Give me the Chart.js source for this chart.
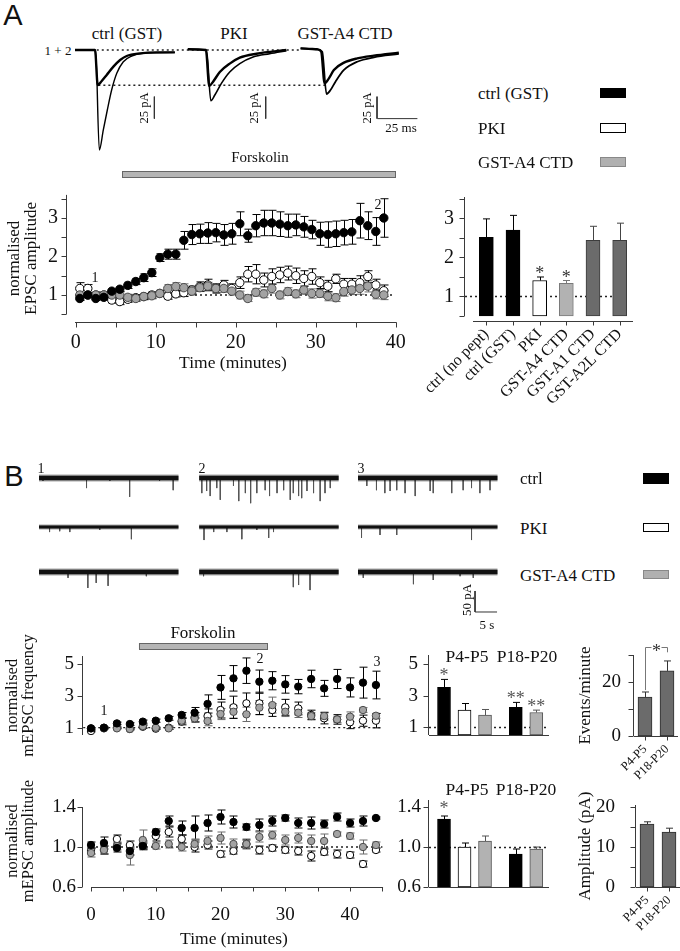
<!DOCTYPE html>
<html><head><meta charset="utf-8"><title>Forskolin EPSC figure</title>
<script src="https://cdn.jsdelivr.net/npm/chart.js@4.4.1/dist/chart.umd.min.js"></script>
<style>
html,body{margin:0;padding:0;background:#fff}
body{position:relative;width:680px;height:951px;overflow:hidden;font-family:"Liberation Serif","Times New Roman",serif;color:#111}
canvas.c{position:absolute}
.t{position:absolute;white-space:nowrap;line-height:1;color:#111}
.sw{position:absolute;box-sizing:border-box;width:26px;height:10px;border:1px solid #000}
</style></head><body>
<script>
// ================= DATA =================
// Panel A: example EPSC traces [time ms, current pA]; 1 = baseline, 2 = forskolin
const epscCtrl1 = [[0,0],[12.5,0],[14.2,-39.8],[16.7,-35.2],[19.8,-28.4],[24,-18.9],[28.2,-11.4],[32.3,-6.8],[40.6,-3.8],[51,-2.7],[62.4,-2.7]];
const epscCtrl2 = [[0,0],[12.9,0],[15.2,-113.6],[17.7,-90.9],[20.2,-68.2],[22.9,-45.5],[26.1,-26.5],[30.2,-13.3],[35.4,-6.8],[42.7,-3.8],[62.4,-2.7]];
const epscPKI1 = [[0,0.8],[11.3,0],[13.4,-40.9],[15.8,-36],[20,-25],[26.2,-15.5],[32.5,-8.7],[42.9,-4.2],[61.6,0]];
const epscPKI2 = [[0,0.8],[11.7,0],[14.4,-57.6],[16.9,-51.1],[21,-37.9],[26.2,-25],[32.5,-15.5],[40.8,-8],[51.2,-4.2],[61.6,-0.8]];
const epscA41 = [[0,1.9],[10.4,0.8],[12.9,-1.9],[15,-37.9],[17.7,-32.2],[20.8,-22.7],[27.1,-14.4],[35.4,-9.5],[45.8,-6.4],[61.4,-3]];
const epscA42 = [[0,1.9],[10.4,0.8],[13.5,-1.9],[16.2,-50],[18.7,-45.5],[21.8,-36],[27.1,-22.7],[35.4,-13.3],[45.8,-8.3],[61.4,-4.5]];
const traceScalePA = 25, traceScaleMs = 25;

// Panel A: normalised EPSC amplitude vs time (minutes)
const timeA = [0.5,1.5,2.5,3.5,4.5,5.5,6.5,7.5,8.5,9.5,10.5,11.5,12.5,13.5,14.5,15.5,16.5,17.5,18.5,19.5,20.5,21.5,22.5,23.5,24.5,25.5,26.5,27.5,28.5,29.5,30.5,31.5,32.5,33.5,34.5,35.5,36.5,37.5,38.5];
const epscCtrl = [0.91,1.00,0.91,0.94,1.10,1.15,1.25,1.35,1.45,1.58,1.97,2.06,2.06,2.42,2.57,2.59,2.61,2.62,2.56,2.59,2.85,2.54,2.80,2.87,2.87,2.84,2.80,2.82,2.77,2.70,2.59,2.57,2.59,2.62,2.64,2.93,2.80,2.65,3.00];
const epscCtrlErr = [0.05,0.05,0.05,0.05,0.05,0.06,0.08,0.08,0.10,0.10,0.10,0.13,0.13,0.23,0.26,0.25,0.27,0.24,0.27,0.27,0.31,0.17,0.29,0.33,0.33,0.32,0.30,0.28,0.27,0.24,0.30,0.33,0.33,0.32,0.32,0.45,0.36,0.36,0.50];
const epscPKI = [1.17,1.17,1.00,1.00,0.87,0.83,0.89,0.93,0.96,1.00,1.04,0.97,1.03,1.06,1.13,1.22,1.26,1.17,1.26,1.17,1.32,1.54,1.54,1.39,1.48,1.52,1.57,1.50,1.43,1.48,1.32,1.23,1.42,1.28,1.28,1.32,1.48,1.26,1.11];
const epscPKIErr = [0.15,0.10,0.08,0.08,0.08,0.08,0.08,0.08,0.08,0.08,0.08,0.08,0.08,0.10,0.10,0.12,0.15,0.12,0.12,0.12,0.15,0.20,0.25,0.18,0.20,0.20,0.18,0.20,0.20,0.20,0.15,0.15,0.12,0.15,0.15,0.18,0.15,0.15,0.15];
const epscA4 = [1.00,1.00,1.00,1.00,1.00,1.00,0.94,0.91,0.96,0.98,1.04,1.17,1.22,1.19,1.10,1.19,1.23,1.17,1.17,1.10,1.00,0.91,1.07,1.03,1.17,1.00,1.09,1.03,1.13,1.04,1.04,0.97,0.93,1.09,1.13,1.17,1.23,1.02,1.00];
const epscA4Err = [0.08,0.06,0.06,0.06,0.08,0.08,0.08,0.08,0.08,0.08,0.08,0.10,0.10,0.10,0.10,0.10,0.10,0.10,0.10,0.10,0.10,0.08,0.10,0.10,0.12,0.10,0.10,0.10,0.10,0.12,0.10,0.12,0.10,0.12,0.12,0.15,0.15,0.12,0.12];
const forskolinA = [5.8, 39.9];
const tickXA = [0,5,10,15,20,25,30,35,40];
const tickYA = [0.5,1,1.5,2,2.5,3,3.5];

// Panel A: summary bars
const barCatsA = ['ctrl (no pept)','ctrl (GST)','PKI','GST-A4 CTD','GST-A1 CTD','GST-A2L CTD'];
const barValsA = [2.52,2.70,1.41,1.34,2.44,2.44];
const barErrA = [0.47,0.38,0.09,0.07,0.36,0.44];
const barStarsA = ['','','*','*','',''];

// Panel B: mEPSC example traces: spikes [time s, amplitude pA]
const spikesCtrl1 = [[0.9,7],[10.8,24],[16.1,7],[20.6,45],[27.4,7],[30.5,29]];
const spikesCtrl2 = [[0.6,36],[1.7,31],[2.5,43],[4.0,24],[4.8,52],[7.8,19],[9.0,55],[10.5,36],[11.7,60],[13.1,36],[15.0,29],[16.0,43],[17.7,36],[19.2,29],[20.7,52],[21.4,36],[22.6,43],[23.3,48],[24.5,31],[26.0,36],[27.5,55],[28.6,36],[29.8,24]];
const spikesCtrl3 = [[2.0,19],[4.2,29],[6.1,36],[7.3,31],[8.8,29],[10.7,36],[13.0,43],[16.4,31],[17.1,36],[21.3,36],[23.9,29],[25.8,24],[27.7,36],[30.0,29]];
const spikesPKI1 = [[2.4,12],[4.7,10],[7.0,12],[13.8,7],[21.0,29]];
const spikesPKI2 = [[1.1,31],[3.3,12],[6.3,12],[9.7,29],[13.1,7],[15.8,26],[16.9,12]];
const spikesPKI3 = [[0.8,26],[5.0,19],[8.8,19],[25.8,31]];
const spikesA41 = [[6.6,14],[11.1,38],[13.0,26],[15.7,33],[24.4,10]];
const spikesA42 = [[1.0,10],[21.4,36],[22.6,31],[25.2,43]];
const spikesA43 = [[1.2,14],[12.6,29],[17.1,19],[23.2,10],[26.2,14]];
const mTraceLenS = 31.7, mScalePA = 50, mScaleS = 5;

// Panel B: normalised mEPSC frequency / amplitude vs time (minutes)
const timeB = [0,2,4,6,8,10,12,14,16,18,20,22,24,26,28,30,32,34,36,38,40,42,44];
const freqCtrl = [0.96,1.00,1.27,1.23,1.38,1.44,1.59,1.80,1.94,2.49,3.53,4.10,4.58,3.89,3.95,3.72,3.58,4.06,3.47,4.06,3.53,3.83,3.68];
const freqCtrlErr = [0.05,0.05,0.08,0.08,0.10,0.10,0.12,0.15,0.33,0.57,0.75,0.80,0.80,0.73,0.57,0.55,0.45,0.55,0.50,0.60,0.60,0.97,0.87];
const freqPKI = [0.79,0.96,1.00,0.92,1.06,0.94,1.00,1.38,1.65,1.73,2.11,2.28,2.53,2.53,2.11,2.28,2.21,1.80,1.59,1.52,1.34,1.44,1.44];
const freqPKIErr = [0.05,0.05,0.05,0.05,0.10,0.05,0.10,0.20,0.30,0.45,0.50,0.70,0.65,0.70,0.40,0.50,0.40,0.30,0.35,0.30,0.40,0.35,0.45];
const freqA4 = [0.96,1.00,0.96,0.92,1.10,1.00,0.96,1.44,1.59,1.42,1.86,2.00,1.84,2.26,2.42,2.00,1.94,1.73,1.73,1.52,1.69,2.11,1.75];
const freqA4Err = [0.05,0.05,0.05,0.05,0.08,0.05,0.05,0.15,0.20,0.30,0.35,0.40,0.45,0.45,0.50,0.30,0.30,0.20,0.25,0.20,0.30,0.15,0.15];
const ampCtrl = [1.02,1.04,0.99,0.96,1.01,1.15,1.26,1.19,1.19,1.24,1.30,1.25,1.20,1.22,1.26,1.29,1.24,1.24,1.23,1.30,1.24,1.26,1.29];
const ampCtrlErr = [0.03,0.06,0.04,0.04,0.03,0.03,0.05,0.07,0.12,0.08,0.07,0.06,0.03,0.06,0.05,0.03,0.05,0.06,0.04,0.04,0.04,0.05,0.01];
const ampPKI = [0.96,0.97,1.08,1.02,1.02,1.11,1.15,1.08,1.00,1.02,0.93,0.96,1.03,0.97,0.99,0.97,0.96,0.91,0.95,0.93,0.92,0.83,0.97];
const ampPKIErr = [0.03,0.04,0.04,0.04,0.04,0.05,0.05,0.04,0.05,0.04,0.03,0.03,0.04,0.04,0.03,0.03,0.04,0.05,0.03,0.04,0.03,0.03,0.02];
const ampA4 = [0.94,0.97,1.01,0.92,1.07,1.01,1.03,1.00,1.03,1.06,1.09,1.03,1.03,1.10,1.12,1.07,1.09,1.06,1.06,1.13,1.11,1.00,1.02];
const ampA4Err = [0.04,0.04,0.04,0.10,0.10,0.03,0.04,0.04,0.05,0.05,0.06,0.05,0.05,0.05,0.04,0.05,0.05,0.06,0.07,0.02,0.03,0.07,0.03];
const forskolinB = [7.4, 27.2];
const tickXB = [0,5,10,15,20,25,30,35,40,45];
const tickYFreq = [1,3,5];
const tickYAmp = [0.6,1.0,1.4];

// Panel B: summary bars by age group
const ageGroups = ['P4-P5','P18-P20'];
const barGroupB = [0,0,0,1,1];
const freqBarVals = [3.52,2.08,1.76,2.25,1.93];
const freqBarErr = [0.51,0.42,0.36,0.32,0.15];
const freqBarStars = ['*','','','**','**'];
const ampBarVals = [1.28,1.00,1.06,0.93,0.98];
const ampBarErr = [0.03,0.04,0.05,0.05,0.02];
const ampBarStars = ['*','','','',''];
const eventsPerMin = [14.4,24.1];
const eventsErr = [1.9,3.7];
const amplitudePA = [15.75,13.7];
const amplitudeErr = [0.55,1.0];

// ================= STYLE / HELPERS =================
const SERIF = '"Liberation Serif","Times New Roman",serif';
Chart.defaults.font.family = SERIF;
Chart.defaults.color = '#111';
Chart.defaults.animation = false;
const BLACK = '#000', WHITE = '#fff', DGREY = '#6b6b6b';

function canvasAt(b){const c=document.createElement('canvas');c.width=b.w;c.height=b.h;c.className='c';c.style.left=b.l+'px';c.style.top=b.t+'px';c.style.width=b.w+'px';c.style.height=b.h+'px';document.body.appendChild(c);return c;}
function T(s,x,y,size,opt){opt=opt||{};const d=document.createElement('div');d.className='t';d.textContent=s;d.style.left=x+'px';d.style.top=y+'px';d.style.fontSize=size+'px';let tr=opt.left?'translate(0,-50%)':'translate(-50%,-50%)';if(opt.rot)tr+=' rotate('+opt.rot+'deg)';d.style.transform=tr;if(opt.sans)d.style.fontFamily='"Liberation Sans",Arial,sans-serif';document.body.appendChild(d);}
function SW(x,y,h,bg,bd){const d=document.createElement('div');d.className='sw';d.style.left=x+'px';d.style.top=y+'px';d.style.height=h+'px';d.style.background=bg;d.style.borderColor=bd;document.body.appendChild(d);}
function pad(b,a,xShown){return {left:0,top:a.t-b.t,right:b.l+b.w-a.r,bottom:xShown?0:b.t+b.h-a.b};}
function noPad(s){s.paddingTop=0;s.paddingBottom=0;s.paddingLeft=0;s.paddingRight=0;}
function yAxis(b,a,o){
  const ticks={padding:o.pad,font:{size:o.fs||19},color:'#111',autoSkip:false};
  if(o.fmt)ticks.callback=o.fmt;
  return {type:'linear',min:o.min,max:o.max,
    afterFit:s=>{s.width=a.l-b.l;noPad(s);},
    afterBuildTicks:s=>{s.ticks=o.ticks.map(v=>({value:v}));},
    grid:{display:false,drawTicks:false},border:{display:false},ticks,
    title:o.title?{display:true,text:o.title,font:{size:o.tfs||17,lineHeight:1},padding:{top:o.tpad||5,bottom:4},color:'#111'}:{display:false}};
}
function xAxis(b,a,o){
  const ticks={padding:o.pad||8,font:{size:o.fs||19},color:'#111',autoSkip:false,maxRotation:o.rot||0,minRotation:o.rot||0};
  if(o.fmt)ticks.callback=o.fmt;
  const ax={type:o.type||'linear',display:o.display!==false,
    grid:{display:false,drawTicks:false},border:{display:false},ticks,
    title:o.title?{display:true,text:o.title,font:{size:17.5,lineHeight:1},padding:{top:2,bottom:o.tbot||4},color:'#111'}:{display:false}};
  ax.afterFit = (o.display===false) ? (s=>{s.height=0;noPad(s);}) : (s=>{s.height=b.t+b.h-a.b;noPad(s);});
  if(o.min!==undefined){ax.min=o.min;ax.max=o.max;}
  if(o.ticks)ax.afterBuildTicks=s=>{s.ticks=o.ticks.map(v=>({value:v}));};
  return ax;
}
function baseOpts(extra){
  const o={responsive:false,maintainAspectRatio:false,devicePixelRatio:1,animation:false,events:[]};
  Object.assign(o,extra);
  o.plugins=Object.assign({legend:{display:false},tooltip:{enabled:false}},extra.plugins||{});
  return o;
}
function sc(xs,ys,errs,kind,r,order){
  const st={black:{bg:'#000',bd:'#000',ec:'#000'},white:{bg:'#fff',bd:'#000',ec:'#000'},grey:{bg:'#a3a3a3',bd:'#4a4a4a',ec:'#6a6a6a'}}[kind];
  return {type:'scatter',data:xs.map((x,i)=>({x,y:ys[i]})),errors:errs,errColor:st.ec,errCap:4,
    pointRadius:r,pointBackgroundColor:st.bg,pointBorderColor:st.bd,pointBorderWidth:1,order};
}
function refLine(x0,x1,v){return {type:'line',showLine:true,data:[{x:x0,y:v},{x:x1,y:v}],borderColor:'#222',borderWidth:1.3,borderDash:[2,3],pointRadius:0,order:9};}

// ---- plugins ----
function drawErr(chart,after){
  const ctx=chart.ctx;
  chart.data.datasets.forEach((ds,i)=>{
    if(!ds.errors||(!!ds.errAfter)!==after)return;
    const meta=chart.getDatasetMeta(i);const ys=chart.scales[meta.yAxisID];
    ctx.save();ctx.lineWidth=1;
    meta.data.forEach((el,j)=>{
      const e=ds.errors[j];const raw=ds.data[j];const v=(raw!==null&&typeof raw==='object')?raw.y:raw;
      const x=Math.round(el.x)+0.5;const yt=ys.getPixelForValue(v+e);
      const yb=ds.errAfter?ys.getPixelForValue(v):ys.getPixelForValue(v-e);const c=ds.errCap||4;
      ctx.strokeStyle=Array.isArray(ds.errColor)?ds.errColor[j]:(ds.errColor||'#000');
      ctx.beginPath();ctx.moveTo(x,yt);ctx.lineTo(x,yb);ctx.moveTo(x-c,yt);ctx.lineTo(x+c,yt);
      if(!ds.errAfter){ctx.moveTo(x-c,yb);ctx.lineTo(x+c,yb);}
      ctx.stroke();
      if(ds.stars&&ds.stars[j]){ctx.fillStyle=ds.starColor||'#333';ctx.font=(ds.starSize||17)+'px '+SERIF;ctx.textAlign='center';ctx.textBaseline='alphabetic';ctx.fillText(ds.stars[j],el.x,yt+(ds.starDy||0));}
    });
    ctx.restore();
  });
}
const errPlugin={id:'errbars',beforeDatasetsDraw(c){drawErr(c,false);},afterDatasetsDraw(c){drawErr(c,true);}};
const spinePlugin={id:'spines',afterDraw(chart,args,o){
  if(!o||(!o.y&&!o.x))return;const ctx=chart.ctx,a=chart.chartArea;
  ctx.save();ctx.strokeStyle=o.color||'#3a3a3a';ctx.lineWidth=1;ctx.beginPath();
  if(o.y){const ys=chart.scales.y;const x=Math.round(a.left-(o.y.off||0))-0.5;
    ctx.moveTo(x,ys.getPixelForValue(o.y.lo));ctx.lineTo(x,ys.getPixelForValue(o.y.hi));
    ys.ticks.forEach(t=>{const p=Math.round(ys.getPixelForValue(t.value))+0.5;ctx.moveTo(x,p);ctx.lineTo(x-(o.y.tick||5),p);});}
  if(o.x){const xs=chart.scales.x;const y=Math.round(a.bottom+(o.x.off||0))+0.5;
    const x0=o.x.lo!==undefined?xs.getPixelForValue(o.x.lo):a.left;const x1=o.x.hi!==undefined?xs.getPixelForValue(o.x.hi):a.right;
    ctx.moveTo(x0,y);ctx.lineTo(x1,y);
    if(o.x.tick){xs.ticks.forEach((t,i)=>{const p=Math.round(xs.getPixelForTick(i))+0.5;ctx.moveTo(p,y);ctx.lineTo(p,y+o.x.tick);});}}
  ctx.stroke();ctx.restore();}};
const forskPlugin={id:'forsk',beforeDraw(chart,args,o){
  if(!o||o.from===undefined)return;const xs=chart.scales.x,ctx=chart.ctx;
  const x0=xs.getPixelForValue(o.from),x1=xs.getPixelForValue(o.to);const y0=chart.chartArea.top+o.dy;
  ctx.save();ctx.fillStyle='#b5b5b5';ctx.strokeStyle='#666';ctx.lineWidth=1;
  ctx.fillRect(x0,y0,x1-x0,o.h);ctx.strokeRect(Math.round(x0)+0.5,Math.round(y0)+0.5,Math.round(x1-x0),o.h);ctx.restore();}};
const hlinePlugin={id:'hline',beforeDatasetsDraw(chart,args,o){
  if(!o||o.value===undefined)return;const xs=chart.scales.x,ys=chart.scales.y,ctx=chart.ctx;
  const y=Math.round(ys.getPixelForValue(o.value))+0.5;
  ctx.save();ctx.strokeStyle='#222';ctx.lineWidth=1.3;ctx.setLineDash([2,3]);ctx.beginPath();
  ctx.moveTo(xs.getPixelForValue(o.from),y);ctx.lineTo(xs.getPixelForValue(o.to),y);ctx.stroke();ctx.restore();}};
const bracketPlugin={id:'bracket',afterDatasetsDraw(chart,args,o){
  if(!o||o.top===undefined)return;const xs=chart.scales.x,ys=chart.scales.y,ctx=chart.ctx;
  const xl=Math.round(xs.getPixelForValue(0))+0.5,xr=Math.round(xs.getPixelForValue(1))+0.5;
  const yt=Math.round(ys.getPixelForValue(o.top))+0.5,yl=ys.getPixelForValue(o.left),yr=ys.getPixelForValue(o.right);
  const xm=(xl+xr)/2;
  ctx.save();ctx.strokeStyle='#777';ctx.lineWidth=1;ctx.beginPath();
  ctx.moveTo(xl,yl);ctx.lineTo(xl,yt);ctx.lineTo(xm-5,yt);ctx.moveTo(xm+5,yt);ctx.lineTo(xr,yt);ctx.lineTo(xr,yr);ctx.stroke();
  ctx.fillStyle='#333';ctx.font='18px '+SERIF;ctx.textAlign='center';ctx.textBaseline='alphabetic';ctx.fillText(o.label,xm,yt+9);
  ctx.restore();}};
Chart.register(errPlugin,spinePlugin,forskPlugin,hlinePlugin,bracketPlugin);

// ================= PANEL A: traces =================
(function(){
  const b={l:75,t:45,w:345,h:111};
  const groupOff=70.5;
  const tr=(arr,g,w)=>({type:'line',data:arr.map(p=>({x:p[0]+g*groupOff,y:p[1]})),borderColor:'#000',borderWidth:w,pointRadius:0,cubicInterpolationMode:'monotone',order:1});
  const ln=(pts,dash,w)=>({type:'line',data:pts.map(p=>({x:p[0],y:p[1]})),borderColor:dash?'#222':'#333',borderWidth:w,borderDash:dash?[2,3]:[],pointRadius:0,order:2});
  const bars=[0,1,2].map(g=>ln([[49.6+g*groupOff*0.987,-53],[49.6+g*groupOff*0.987,-53-traceScalePA]],false,1));
  const msBar=ln([[189,-53-traceScalePA],[189+traceScaleMs,-53-traceScalePA]],false,1);
  new Chart(canvasAt(b),{type:'line',data:{datasets:[
    tr(epscCtrl1,0,2.4),tr(epscCtrl2,0,1.4),tr(epscPKI1,1,2.4),tr(epscPKI2,1,1.6),tr(epscA41,2,2.4),tr(epscA42,2,1.8),
    ln([[13.6,0],[140.6,0]],true,1.4),ln([[14.6,-40],[156.3,-40]],true,1.4),...bars,msBar]},
    options:baseOpts({layout:{padding:0},scales:{x:{type:'linear',display:false,min:0,max:345/1.6},y:{type:'linear',display:false,min:-120.5,max:5.7}}})});
})();

// ================= PANEL A: time course =================
(function(){
  const b={l:0,t:145,w:420,h:231},a={l:67,t:195,r:399,b:322};
  new Chart(canvasAt(b),{type:'scatter',data:{datasets:[
    refLine(-0.1,39.6,1),
    sc(timeA,epscCtrl,epscCtrlErr,'black',4.2,0),
    sc(timeA,epscA4,epscA4Err,'grey',4.2,1),
    sc(timeA,epscPKI,epscPKIErr,'white',4.2,2)]},
    options:baseOpts({layout:{padding:pad(b,a,true)},
      scales:{x:xAxis(b,a,{min:-1.1,max:40.4,ticks:tickXA,fmt:v=>v%10===0?v:'',pad:9,fs:20,title:'Time (minutes)'}),
              y:yAxis(b,a,{min:0.299,max:3.597,ticks:tickYA,fmt:v=>Number.isInteger(v)?v:'',pad:9,fs:20,title:['normalised','EPSC amplitude'],tpad:6})},
      plugins:{spines:{y:{lo:0.5,hi:3.6,tick:5},x:{lo:-0.1,hi:40.1,tick:5}},forsk:{from:forskolinA[0],to:forskolinA[1],dy:-24,h:6}}})});
})();

// ================= PANEL A: bars =================
(function(){
  const b={l:410,t:180,w:270,h:240},a={l:473,t:197,r:633,b:316};
  new Chart(canvasAt(b),{type:'bar',data:{labels:barCatsA,datasets:[{
    data:barValsA,base:0.5,barThickness:14,borderWidth:1,borderSkipped:false,clip:false,
    backgroundColor:[BLACK,BLACK,WHITE,'#b2b2b2',DGREY,DGREY],borderColor:['#000','#000','#000','#7a7a7a','#3c3c3c','#3c3c3c'],
    errors:barErrA,errAfter:true,errCap:3.5,errColor:['#000','#000','#000','#777','#444','#444'],stars:barStarsA,starDy:2,starColor:'#333',starSize:18}]},
    options:baseOpts({layout:{padding:pad(b,a,true)},
      scales:{x:xAxis(b,a,{type:'category',rot:45,pad:9,fs:16}),
              y:yAxis(b,a,{min:0.5,max:3.551,ticks:tickYA,fmt:v=>Number.isInteger(v)?v:'',pad:19,fs:20})},
      plugins:{spines:{y:{lo:0.5,hi:3.55,off:8,tick:5},x:{off:5,tick:4}},hline:{value:1,from:-0.8,to:4.72}}})});
})();

// ================= PANEL B: mEPSC traces =================
(function(){
  const b={l:39,t:466,w:465,h:152};
  const colOff=[0,36.4,72.5],rowOff=[0,116.7,223.8];
  const rows=[[spikesCtrl1,spikesCtrl2,spikesCtrl3],[spikesPKI1,spikesPKI2,spikesPKI3],[spikesA41,spikesA42,spikesA43]];
  const ds=[];
  rows.forEach((row,r)=>row.forEach((sp,c)=>{
    const x0=colOff[c],y0=-rowOff[r];
    const pts=[];sp.forEach(s=>{pts.push({x:x0+s[0],y:y0},{x:x0+s[0],y:y0-s[1]},{x:x0+s[0],y:null});});
    ds.push({type:'line',data:pts,borderColor:'#555',borderWidth:1,pointRadius:0,spanGaps:false,order:3});
    ds.push({type:'line',data:[{x:x0,y:y0},{x:x0+mTraceLenS,y:y0}],borderColor:'rgba(0,0,0,0.35)',borderWidth:r===1?5:7,pointRadius:0,order:2});
    ds.push({type:'line',data:[{x:x0,y:y0},{x:x0+mTraceLenS,y:y0}],borderColor:'#111',borderWidth:r===1?3:4.5,pointRadius:0,order:1});
  }));
  ds.push({type:'line',data:[{x:99.1,y:-269},{x:99.1,y:-269-mScalePA},{x:99.1+mScaleS,y:-269-mScalePA}],borderColor:'#333',borderWidth:1,pointRadius:0,order:0});
  new Chart(canvasAt(b),{type:'line',data:{datasets:ds},
    options:baseOpts({layout:{padding:0},scales:{x:{type:'linear',display:false,min:0,max:465/4.4},y:{type:'linear',display:false,min:-333.3,max:28.57}}})});
})();

// ================= PANEL B: frequency time course =================
(function(){
  const b={l:0,t:620,w:410,h:150},a={l:83,t:656,r:385,b:735};
  new Chart(canvasAt(b),{type:'scatter',data:{datasets:[
    refLine(-1.2,44.8,1),
    sc(timeB,freqCtrl,freqCtrlErr,'black',3.7,0),
    sc(timeB,freqA4,freqA4Err,'grey',3.7,1),
    sc(timeB,freqPKI,freqPKIErr,'white',3.7,2)]},
    options:baseOpts({layout:{padding:pad(b,a,false)},
      scales:{x:xAxis(b,a,{min:-1.236,max:45.4,display:false}),
              y:yAxis(b,a,{min:0.542,max:5.502,ticks:tickYFreq,pad:9,fs:19,title:['normalised','mEPSC frequency'],tfs:16.5,tpad:4})},
      plugins:{spines:{y:{lo:0.542,hi:5.5,tick:5}},forsk:{from:forskolinB[0],to:forskolinB[1],dy:-13,h:6}}})});
})();

// ================= PANEL B: amplitude time course =================
(function(){
  const b={l:0,t:772,w:410,h:179},a={l:83,t:795,r:385,b:887};
  new Chart(canvasAt(b),{type:'scatter',data:{datasets:[
    refLine(0,45,1),
    sc(timeB,ampCtrl,ampCtrlErr,'black',3.7,0),
    sc(timeB,ampA4,ampA4Err,'grey',3.7,1),
    sc(timeB,ampPKI,ampPKIErr,'white',3.7,2)]},
    options:baseOpts({layout:{padding:pad(b,a,true)},
      scales:{x:xAxis(b,a,{min:-1.236,max:45.4,ticks:tickXB,fmt:v=>v%10===0?v:'',pad:17,fs:19,title:'Time (minutes)',tbot:3}),
              y:yAxis(b,a,{min:0.6,max:1.52,ticks:tickYAmp,fmt:v=>v.toFixed(1),pad:7,fs:19,title:['normalised','mEPSC amplitude'],tfs:16.5,tpad:4})},
      plugins:{spines:{y:{lo:0.6,hi:1.4,tick:5},x:{lo:0,hi:45.1,tick:4}}}})});
})();

// ================= PANEL B: grouped bars =================
function groupedBars(b,a,vals,errs,stars,starDy,ymin,ymax,ticks,fmt,padT){
  const pos=vals.map((v,i)=>i+barGroupB[i]*0.5);
  new Chart(canvasAt(b),{type:'bar',data:{datasets:[{
    data:vals.map((v,i)=>({x:pos[i],y:v})),base:ymin,barThickness:13,borderWidth:1,borderSkipped:false,clip:false,
    backgroundColor:[BLACK,WHITE,'#b2b2b2',BLACK,'#b2b2b2'],borderColor:['#000','#000','#555','#000','#555'],
    errors:errs,errAfter:true,errCap:3.5,errColor:['#000','#000','#555','#000','#555'],stars,starDy,starColor:'#555',starSize:18}]},
    options:baseOpts({layout:{padding:pad(b,a,false)},
      scales:{x:{type:'linear',display:false,min:-0.732,max:5.12,offset:false,afterFit:s=>{s.height=0;noPad(s);}},
              y:yAxis(b,a,{min:ymin,max:ymax,ticks,fmt,pad:padT,fs:19})},
      plugins:{spines:{y:{lo:ymin,hi:ymax,tick:5},x:{}},hline:{value:1,from:-0.732,to:5.0}}})});
}
groupedBars({l:395,t:635,w:170,h:112},{l:429,t:655,r:549,b:735},freqBarVals,freqBarErr,freqBarStars,2,0.5,5.58,tickYFreq,null,11);
groupedBars({l:385,t:785,w:180,h:115},{l:429,t:800,r:549,b:887},ampBarVals,ampBarErr,ampBarStars,-2,0.6,1.47,tickYAmp,v=>v.toFixed(1),8);

// ================= PANEL B: age comparison =================
function ageBars(b,a,vals,errs,ymax,ticks,fmt,title,padT,bracket){
  const plugins={spines:{y:{lo:0,hi:ymax,tick:5},x:{tick:4}}};
  if(bracket)plugins.bracket=bracket;
  new Chart(canvasAt(b),{type:'bar',data:{labels:ageGroups,datasets:[{
    data:vals,barThickness:14,borderWidth:1,borderSkipped:false,backgroundColor:DGREY,borderColor:'#2e2e2e',
    errors:errs,errAfter:true,errCap:3.5,errColor:'#333'}]},
    options:baseOpts({layout:{padding:pad(b,a,true)},
      scales:{x:xAxis(b,a,{type:'category',rot:45,pad:6,fs:12.5}),
              y:yAxis(b,a,{min:0,max:ymax,ticks,fmt,pad:padT,fs:19,title,tpad:6})},
      plugins})});
}
ageBars({l:571,t:630,w:115,h:155},{l:634,t:655,r:678,b:736},eventsPerMin,eventsErr,30,[0,10,20,30],v=>(v===0||v===20)?v:'','Events/minute',13,{top:33,left:17,right:31,label:'*'});
ageBars({l:571,t:775,w:115,h:172},{l:636,t:805,r:680,b:887},amplitudePA,amplitudeErr,20.5,[0,5,10,15,20],v=>v%10===0?v:'','Amplitude (pA)',21,null);

// ================= TEXT =================
T('A',13,15,29,{sans:true});
T('ctrl (GST)',127,33,17);T('PKI',234,33,17);T('GST-A4 CTD',345,33,17);
T('1 + 2',58,50,13);
T('25 pA',144,108,12.5,{rot:-90});T('25 pA',254,108,12.5,{rot:-90});T('25 pA',367,108,12.5,{rot:-90});
T('25 ms',401,127,13);
T('Forskolin',260,157,15);
T('ctrl (GST)',478,93,17,{left:true});T('PKI',478,128,17,{left:true});T('GST-A4 CTD',478,162,17,{left:true});
SW(600,88,10,'#000','#000');SW(600,123,10,'#fff','#000');SW(600,157,10,'#b0b0b0','#888');
T('1',95,278,14);T('2',378,205,14);
T('B',14,476,29,{sans:true});
T('1',41,469,14);T('2',202,469,14);T('3',361,469,14);
T('ctrl',520,478,17,{left:true});T('PKI',520,528,17,{left:true});T('GST-A4 CTD',520,575,17,{left:true});
SW(643,473,11,'#000','#000');SW(643,523,9,'#fff','#000');SW(643,570,9,'#b0b0b0','#888');
T('50 pA',466,600,13,{rot:-90});T('5 s',487,624,13);
T('Forskolin',203,632,17);
T('1',104,711,14);T('2',260,659,14);T('3',377,662,14);
T(ageGroups[0],467,657,17.5);T(ageGroups[1],527,657,17.5);
T(ageGroups[0],467,790,17.5);T(ageGroups[1],526,790,17.5);
</script>
</body></html>
